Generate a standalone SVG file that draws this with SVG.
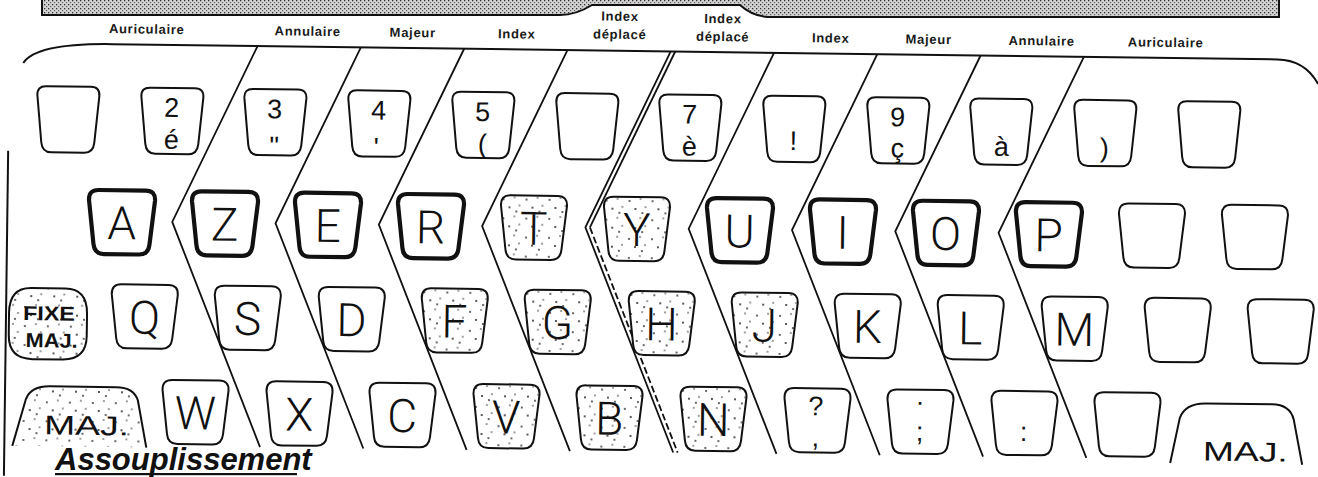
<svg xmlns="http://www.w3.org/2000/svg" width="1318" height="477" viewBox="0 0 1318 477">
<style>
.key{fill:#fff;stroke:#111;stroke-width:2}
.heavy{stroke-width:4.2}
.stip{fill:url(#stip)}
.lbl{font-family:"Liberation Sans",Arial,sans-serif;font-size:13px;font-weight:bold;letter-spacing:0.7px;fill:#1a1a1a;text-anchor:middle}
.let{font-family:Roboto,"Liberation Sans",Arial,sans-serif;font-weight:300;font-size:46px;text-anchor:middle;fill:#111}
.hw{font-family:"Liberation Sans",Arial,sans-serif;font-size:27px;text-anchor:middle;fill:#111}
.hwb{font-family:"Liberation Sans",Arial,sans-serif;font-weight:bold;text-anchor:middle;fill:#111}
.sep{fill:none;stroke:#111;stroke-width:1.8}
.line{fill:none;stroke:#111;stroke-width:2}
</style>
<defs>
<pattern id="half" width="4" height="4" patternUnits="userSpaceOnUse"><rect width="4" height="4" fill="#d2d2d2"/><rect width="1.3" height="1.3" fill="#333"/><rect x="2" y="2" width="1.2" height="1.2" fill="#666"/></pattern>
<pattern id="stip" width="23" height="19" patternUnits="userSpaceOnUse"><rect width="23" height="19" fill="#fff"/><g fill="#222"><circle cx="3" cy="4" r="0.9"/><circle cx="14" cy="2" r="0.8"/><circle cx="9" cy="12" r="1"/><circle cx="19" cy="10" r="0.8"/><circle cx="16" cy="16" r="0.9"/></g></pattern>
<path id="ka" d="M9,0 H54 Q63,0 62.5,9 L58,56 Q57,66 48,66 H15 Q6,66 5,56 L0.5,9 Q0,0 9,0 Z"/>
<path id="kb" d="M10,0 H57 Q67,0 66.5,10 L61.5,54 Q60.5,64 51,64 H16 Q6.5,64 5.5,54 L0.5,10 Q0,0 10,0 Z"/>
</defs>
<rect width="1318" height="477" fill="#fff"/>
<g id="banner">
<path d="M42,-3 V15 H560 Q576,15 592,5 H740 Q752,16 768,17 H1279 V-3 Z" fill="url(#half)" stroke="#111" stroke-width="2"/>
</g>
<g id="keyboard" transform="rotate(0.75 100 240)">
<g id="labels">
<text class="lbl" x="144" y="33">Auriculaire</text>
<text class="lbl" x="305" y="33">Annulaire</text>
<text class="lbl" x="410" y="33">Majeur</text>
<text class="lbl" x="514" y="33">Index</text>
<text class="lbl" x="617" y="14">Index</text>
<text class="lbl" x="617" y="32">déplacé</text>
<text class="lbl" x="720" y="15">Index</text>
<text class="lbl" x="720" y="33">déplacé</text>
<text class="lbl" x="828" y="33">Index</text>
<text class="lbl" x="926" y="33">Majeur</text>
<text class="lbl" x="1039" y="33">Annulaire</text>
<text class="lbl" x="1163" y="33">Auriculaire</text>
</g>
<g id="connectors">
<path class="line" d="M21,64 C30,50 60,44 110,44 H1275 C1296,44 1308,54 1316,68"/>
<path class="line" d="M7,152 V477" stroke-width="1.5"/>
<polyline class="sep" points="255,44 172,221 262.7,445"/>
<polyline class="sep" points="358.3,44 275.3,221 366,445"/>
<polyline class="sep" points="461.6,44 378.6,221 469.3,445"/>
<polyline class="sep" points="564.9,44 481.9,221 572.6,445"/>
<polyline class="sep" points="668.2,44 585.2,221 675.9,445"/>
<polyline class="sep" points="672.7,44 589.7,221"/>
<polyline class="sep" points="589.7,221 680.4,445" stroke-dasharray="7 3"/>
<polyline class="sep" points="771.5,44 688.5,221 779.2,445"/>
<polyline class="sep" points="874.8,44 791.8,221 882.5,445"/>
<polyline class="sep" points="978.1,44 895.1,221 985.8,445"/>
<polyline class="sep" points="1081.4,44 998.4,221 1089.1,445"/>
</g>
<!-- Row 1 -->
<g id="k1-1"><use href="#ka" x="35" y="87" class="key"/></g>
<g id="k1-2"><use href="#ka" x="139" y="87" class="key"/><text class="hw" x="170" y="116">2</text><text class="hw" x="170" y="148">é</text></g>
<g id="k1-3"><use href="#ka" x="242" y="87" class="key"/><text class="hw" x="273" y="116">3</text><text class="hw" x="273" y="153" font-size="32">"</text></g>
<g id="k1-4"><use href="#ka" x="346" y="87" class="key"/><text class="hw" x="377" y="116">4</text><text class="hw" x="375" y="153" font-size="32">'</text></g>
<g id="k1-5"><use href="#ka" x="450" y="87" class="key"/><text class="hw" x="481" y="116">5</text><text class="hw" x="481" y="148">(</text></g>
<g id="k1-6"><use href="#ka" x="554" y="87" class="key"/></g>
<g id="k1-7"><use href="#ka" x="657" y="87" class="key"/><text class="hw" x="688" y="116">7</text><text class="hw" x="688" y="148">è</text></g>
<g id="k1-8"><use href="#ka" x="761" y="87" class="key"/><text class="hw" x="792" y="141" font-size="32">!</text></g>
<g id="k1-9"><use href="#ka" x="865" y="87" class="key"/><text class="hw" x="896" y="116">9</text><text class="hw" x="896" y="147">ç</text></g>
<g id="k1-10"><use href="#ka" x="968" y="87" class="key"/><text class="hw" x="1000" y="144" font-size="34">à</text></g>
<g id="k1-11"><use href="#ka" x="1072" y="87" class="key"/><text class="hw" x="1103" y="144" font-size="30">)</text></g>
<g id="k1-12"><use href="#ka" x="1176" y="87" class="key"/></g>
<!-- Row 2 -->
<g id="kA"><use href="#kb" x="88" y="190" class="key heavy"/><text class="let" x="121.5" y="239">A</text></g>
<g id="kZ"><use href="#kb" x="191" y="190" class="key heavy"/><text class="let" x="224.5" y="239">Z</text></g>
<g id="kE"><use href="#kb" x="294" y="190" class="key heavy"/><text class="let" x="327.5" y="239">E</text></g>
<g id="kR"><use href="#kb" x="397" y="190" class="key heavy"/><text class="let" x="430.5" y="239">R</text></g>
<g id="kT"><use href="#kb" x="500" y="190" class="key stip" stroke-width="2.6"/><text class="let" x="533.5" y="239">T</text></g>
<g id="kY"><use href="#kb" x="603" y="190" class="key stip"/><text class="let" x="636.5" y="239">Y</text></g>
<g id="kU"><use href="#kb" x="706" y="190" class="key heavy"/><text class="let" x="739.5" y="239">U</text></g>
<g id="kI"><use href="#kb" x="809" y="190" class="key heavy"/><text class="let" x="842.5" y="239">I</text></g>
<g id="kO"><use href="#kb" x="912" y="190" class="key heavy"/><text class="let" x="945.5" y="239">O</text></g>
<g id="kP"><use href="#kb" x="1015" y="190" class="key heavy"/><text class="let" x="1048.5" y="239">P</text></g>
<g id="k2-11"><use href="#kb" x="1118" y="190" class="key"/></g>
<g id="k2-12"><use href="#kb" x="1221" y="190" class="key"/></g>
<!-- Row 3 -->
<g id="kFixe"><path class="key stip" d="M32,289 H66 Q88,289 88,314 V336 Q88,360 64,360 H34 Q10,360 10,336 V314 Q10,289 32,289 Z"/><text class="hwb" x="50" y="321" font-size="20" textLength="52" lengthAdjust="spacingAndGlyphs">FIXE</text><text class="hwb" x="53" y="348" font-size="20" textLength="52" lengthAdjust="spacingAndGlyphs">MAJ.</text></g>
<g id="kQ"><use href="#kb" x="112" y="284" class="key"/><text class="let" x="145.5" y="333">Q</text></g>
<g id="kS"><use href="#kb" x="215" y="284" class="key"/><text class="let" x="248.5" y="333">S</text></g>
<g id="kD"><use href="#kb" x="319" y="284" class="key"/><text class="let" x="352.5" y="333">D</text></g>
<g id="kF"><use href="#kb" x="422" y="284" class="key stip"/><text class="let" x="455.5" y="333">F</text></g>
<g id="kG"><use href="#kb" x="525" y="284" class="key stip"/><text class="let" x="558.5" y="333">G</text></g>
<g id="kH"><use href="#kb" x="629" y="284" class="key stip"/><text class="let" x="662.5" y="333">H</text></g>
<g id="kJ"><use href="#kb" x="732" y="284" class="key stip"/><text class="let" x="765.5" y="333">J</text></g>
<g id="kK"><use href="#kb" x="835" y="284" class="key"/><text class="let" x="868.5" y="333">K</text></g>
<g id="kL"><use href="#kb" x="938" y="284" class="key"/><text class="let" x="971.5" y="333">L</text></g>
<g id="kM"><use href="#kb" x="1042" y="284" class="key"/><text class="let" x="1075.5" y="333">M</text></g>
<g id="k3-12"><use href="#kb" x="1145" y="284" class="key"/></g>
<g id="k3-13"><use href="#kb" x="1248" y="284" class="key"/></g>
<!-- Row 4 -->
<g id="kMajL"><path class="key stip" d="M15,447 L28,400 Q33,387 52,387 H118 Q136,387 140,400 L149,447"/><text class="hw" x="89" y="435" font-size="40" textLength="85" lengthAdjust="spacingAndGlyphs">MAJ.</text></g>
<g id="kW"><use href="#kb" x="164" y="379" class="key"/><text class="let" x="197.5" y="428">W</text></g>
<g id="kX"><use href="#kb" x="268" y="379" class="key"/><text class="let" x="301.5" y="428">X</text></g>
<g id="kC"><use href="#kb" x="371" y="379" class="key"/><text class="let" x="404.5" y="428">C</text></g>
<g id="kV"><use href="#kb" x="475" y="379" class="key stip"/><text class="let" x="508.5" y="428">V</text></g>
<g id="kB"><use href="#kb" x="578" y="379" class="key stip"/><text class="let" x="611.5" y="428">B</text></g>
<g id="kN"><use href="#kb" x="682" y="379" class="key stip"/><text class="let" x="715.5" y="428">N</text></g>
<g id="kQm"><use href="#kb" x="786" y="379" class="key"/><text class="hw" x="818" y="406">?</text><text class="hw" x="818" y="437">,</text></g>
<g id="kSc"><use href="#kb" x="889" y="379" class="key"/><text class="hw" x="922" y="394" font-size="24">.</text><text class="hw" x="922" y="430" font-size="30">;</text></g>
<g id="kCo"><use href="#kb" x="993" y="379" class="key"/><text class="hw" x="1026" y="429" font-size="30">:</text></g>
<g id="k4-11"><use href="#kb" x="1096" y="379" class="key"/></g>
<g id="kMajR"><path class="key" d="M1173,449 L1182,404 Q1187,389 1208,389 H1274 Q1292,389 1296,404 L1305,449"/><text class="hw" x="1248" y="446" font-size="44" textLength="85" lengthAdjust="spacingAndGlyphs">MAJ.</text></g>
</g>
<g id="title">
<text x="55" y="470" font-family="'Liberation Sans',Arial,sans-serif" font-size="31" font-weight="bold" font-style="italic" fill="#111">Assouplissement</text>
<rect x="55" y="473" width="242" height="2.2" fill="#111"/>
</g>
</svg>
